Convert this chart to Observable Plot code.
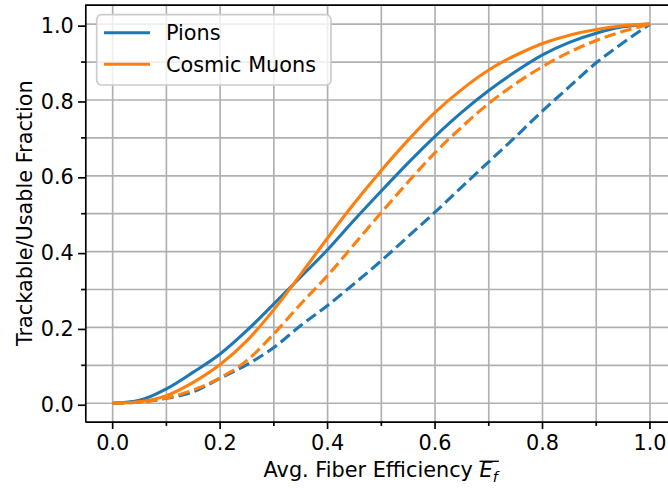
<!DOCTYPE html>
<html>
<head>
<meta charset="utf-8">
<script src="https://cdn.jsdelivr.net/npm/d3@7"></script>
<script src="https://cdn.jsdelivr.net/npm/@observablehq/plot@0.6"></script>
<style>
  html, body { margin: 0; padding: 0; background: white; }
  #chart { width: 668px; height: 493px; overflow: hidden; }
</style>
</head>
<body>
<div id="chart"></div>
<script>
// ---- data ----
const efficiency = [0, 0.05, 0.1, 0.15, 0.2, 0.25, 0.3, 0.35, 0.4, 0.45, 0.5, 0.55, 0.6, 0.65, 0.7, 0.75, 0.8, 0.85, 0.9, 0.95, 1.0];
const pionsSolid  = [0, 0.008, 0.038, 0.082, 0.130, 0.192, 0.262, 0.333, 0.405, 0.484, 0.560, 0.634, 0.704, 0.768, 0.825, 0.875, 0.919, 0.952, 0.976, 0.993, 1.0];
const pionsDashed = [0, 0.003, 0.013, 0.030, 0.066, 0.102, 0.147, 0.205, 0.258, 0.316, 0.376, 0.440, 0.504, 0.571, 0.637, 0.703, 0.771, 0.835, 0.898, 0.951, 1.0];
const muonsSolid  = [0, 0.004, 0.020, 0.055, 0.102, 0.165, 0.247, 0.340, 0.436, 0.528, 0.614, 0.694, 0.767, 0.828, 0.879, 0.918, 0.949, 0.971, 0.986, 0.996, 1.0];
const muonsDashed = [0, 0.003, 0.014, 0.035, 0.067, 0.113, 0.183, 0.262, 0.337, 0.420, 0.503, 0.584, 0.661, 0.729, 0.791, 0.843, 0.888, 0.926, 0.957, 0.981, 1.0];
const seriesNames = ["Pions", "Cosmic Muons"];
const xMajorTicks = [0, 0.2, 0.4, 0.6, 0.8, 1.0];
const xMinorTicks = [0.1, 0.3, 0.5, 0.7, 0.9];
const yMajorTicks = [0, 0.2, 0.4, 0.6, 0.8, 1.0];
const yMinorTicks = [0.1, 0.3, 0.5, 0.7, 0.9];
const xLabelText = "Avg. Fiber Efficiency ";
const yLabelText = "Trackable/Usable Fraction";

const blue = "#1f77b4", orange = "#ff7f0e";
const toRows = (ys, series, style) => efficiency.map((x, i) => ({x, y: ys[i], series, style}));
const rows = [
  ...toRows(pionsSolid, "Pions", "solid"),
  ...toRows(pionsDashed, "Pions", "dashed"),
  ...toRows(muonsSolid, "Cosmic Muons", "solid"),
  ...toRows(muonsDashed, "Cosmic Muons", "dashed")
];
const colorOf = s => s === "Pions" ? blue : orange;
const allX = [...xMajorTicks, ...xMinorTicks];
const allY = [...yMajorTicks, ...yMinorTicks];
const fmt = d3.format(".1f");
const lw = 3.1;
const spine = 1.67;

const lineMark = (series, style) => Plot.line(rows.filter(d => d.series === series && d.style === style), {
  x: "x", y: "y", stroke: colorOf(series), strokeWidth: lw, curve: "monotone-x",
  strokeDasharray: style === "dashed" ? "11.6,5" : null, strokeLinecap: "butt"
});

const plot = Plot.plot({
  width: 668,
  height: 493,
  marginLeft: 85.3,
  marginRight: 0,
  marginTop: 4.7,
  marginBottom: 71.3,
  style: {fontFamily: "DejaVu Sans", fontSize: "20.8px", background: "white", color: "black", overflow: "visible"},
  x: {domain: [-0.05, 1.0345]},
  y: {domain: [-0.05, 1.05]},
  marks: [
    Plot.gridX(allX, {stroke: "#b0b0b0", strokeOpacity: 1, strokeWidth: 1.67}),
    Plot.gridY(allY, {stroke: "#b0b0b0", strokeOpacity: 1, strokeWidth: 1.67}),
    lineMark("Pions", "solid"),
    lineMark("Pions", "dashed"),
    lineMark("Cosmic Muons", "solid"),
    lineMark("Cosmic Muons", "dashed"),
    Plot.axisX(xMajorTicks, {tickSize: 7.3, tickPadding: 5.5, tickFormat: fmt, label: null, strokeWidth: spine, fontSize: 20.8}),
    Plot.axisX(xMinorTicks, {tickSize: 4.2, tickFormat: () => "", label: null, strokeWidth: spine}),
    Plot.axisY(yMajorTicks, {tickSize: 7.3, tickPadding: 4.7, tickFormat: fmt, label: null, strokeWidth: spine, fontSize: 20.8, dy: 2}),
    Plot.axisY(yMinorTicks, {tickSize: 4.2, tickFormat: () => "", label: null, strokeWidth: spine}),
    Plot.ruleX([-0.05], {stroke: "black", strokeWidth: spine}),
    Plot.ruleY([-0.05], {stroke: "black", strokeWidth: spine}),
    Plot.ruleY([1.05], {stroke: "black", strokeWidth: spine})
  ]
});
document.getElementById("chart").appendChild(plot);

const svg = d3.select(plot);

// legend
const leg = svg.append("g").attr("font-family", "DejaVu Sans").attr("font-size", 20.8).attr("text-anchor", "start");
leg.append("rect").attr("x", 96.7).attr("y", 14.7).attr("width", 234.3).attr("height", 70.3)
  .attr("rx", 5).attr("fill", "white").attr("fill-opacity", 0.8).attr("stroke", "#cccccc").attr("stroke-width", 1.7);
seriesNames.forEach((name, i) => {
  const ly = 32.7 + i * 31.6;
  leg.append("line").attr("x1", 104).attr("x2", 150).attr("y1", ly).attr("y2", ly)
    .attr("stroke", colorOf(name)).attr("stroke-width", lw);
  leg.append("text").attr("x", 166).attr("y", ly + 7.5).attr("text-anchor", "start").attr("fill", "black").text(name);
});

// x label with math E_f overline
const xl = svg.append("text").attr("x", 380.7).attr("y", 477).attr("text-anchor", "middle")
  .attr("font-family", "DejaVu Sans").attr("font-size", 20.8).attr("fill", "black");
xl.append("tspan").text(xLabelText);
xl.append("tspan").attr("font-style", "italic").text("E");
xl.append("tspan").attr("font-style", "italic").attr("font-size", 14.6).attr("dy", 4.5).text("f");
try {
  const n = xl.node();
  const len = n.getNumberOfChars();
  const eExt = n.getExtentOfChar(len - 2);
  const fExt = n.getExtentOfChar(len - 1);
  svg.append("line").attr("x1", eExt.x).attr("x2", fExt.x + fExt.width + 1)
    .attr("y1", 461.3).attr("y2", 461.3).attr("stroke", "black").attr("stroke-width", 1.4);
} catch (e) {}

// y label
svg.append("text").attr("transform", "translate(31.5,213.2) rotate(-90)").attr("text-anchor", "middle")
  .attr("font-family", "DejaVu Sans").attr("font-size", 20.8).attr("fill", "black").text(yLabelText);
</script>
</body>
</html>
